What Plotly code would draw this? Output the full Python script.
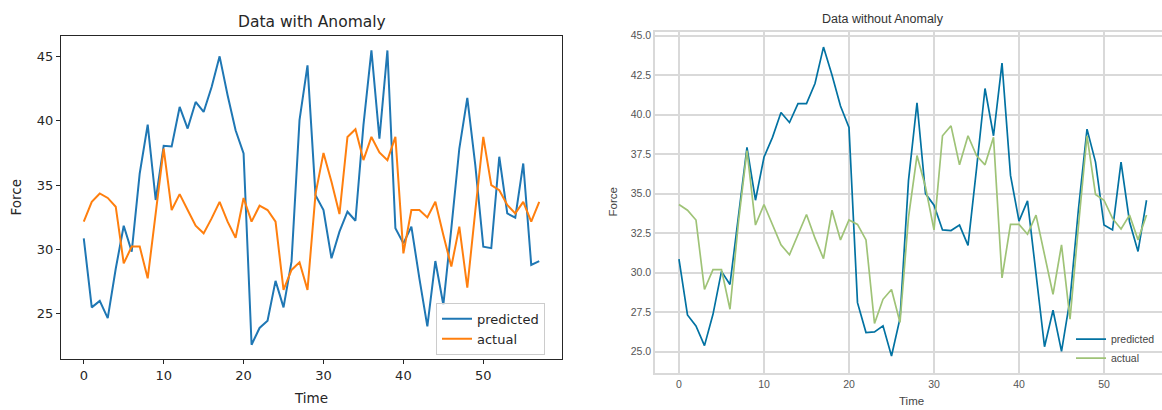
import plotly.graph_objects as go

# ---- Data: left panel ("Data with Anomaly") ----
time_left = list(range(58))
pred_left = [30.86, 25.5, 26.0, 24.66, 28.5, 31.84, 29.83, 35.9, 39.7, 33.84,
             38.05, 38.0, 41.07, 39.39, 41.46, 40.68, 42.62, 45.0, 41.98, 39.26,
             37.45, 22.6, 23.9, 24.46, 27.56, 25.5, 29.05, 40.04, 44.3, 34.22,
             33.06, 29.31, 31.38, 32.93, 32.23, 39.65, 45.46, 38.61, 45.46, 31.64,
             30.47, 31.77, 27.76, 24.02, 29.1, 25.7, 31.64, 37.84, 41.77, 36.55,
             30.22, 30.1, 37.2, 32.8, 32.47, 36.68, 28.8, 29.1]
act_left = [32.16, 33.7, 34.35, 34.0, 33.32, 28.92, 30.22, 30.22, 27.76, 32.8,
            37.84, 33.06, 34.3, 33.06, 31.84, 31.25, 32.41, 33.7, 32.16, 30.91,
            34.0, 32.16, 33.4, 33.06, 32.16, 26.86, 28.41, 29.0, 26.86, 34.3,
            37.5, 35.26, 32.75, 38.74, 39.34, 36.94, 38.74, 37.53, 36.94, 38.74,
            29.7, 33.06, 33.06, 32.49, 33.7, 31.12, 28.67, 31.77, 27.04, 33.0,
            38.74, 35.0, 34.6, 33.45, 32.8, 33.7, 32.16, 33.7]

# ---- Data: right panel ("Data without Anomaly") ----
time_right = list(range(56))
pred_right = [30.86, 27.32, 26.63, 25.38, 27.36, 30.08, 29.25, 33.43, 37.93, 34.58,
              37.3, 38.56, 40.13, 39.5, 40.69, 40.69, 41.97, 44.27, 42.5, 40.54,
              39.18, 28.1, 26.21, 26.25, 26.63, 24.72, 27.1, 35.84, 40.75, 35.0,
              34.27, 32.7, 32.66, 33.01, 31.72, 36.57, 41.65, 38.66, 43.26, 36.15,
              33.26, 34.54, 30.08, 25.31, 27.62, 25.02, 28.3, 34.06, 39.08, 36.99,
              33.01, 32.7, 36.99, 33.22, 31.34, 34.58]
act_right = [34.31, 33.95, 33.33, 28.93, 30.19, 30.19, 27.68, 33.22, 37.72, 33.01,
             34.31, 33.01, 31.76, 31.13, 32.38, 33.68, 32.18, 30.88, 33.95, 32.07,
             33.33, 33.05, 32.07, 26.78, 28.31, 28.93, 26.84, 33.5, 37.41, 35.42,
             32.7, 38.66, 39.29, 36.82, 38.66, 37.41, 36.82, 38.56, 29.67, 33.05,
             33.05, 32.43, 33.64, 31.03, 28.62, 31.76, 27.05, 33.0, 38.66, 34.94,
             34.58, 33.43, 32.76, 33.64, 32.07, 33.64]

left_yticks = [25, 30, 35, 40, 45]
left_xticks = [0, 10, 20, 30, 40, 50]
right_yticks = [25.0, 27.5, 30.0, 32.5, 35.0, 37.5, 40.0, 42.5, 45.0]
right_ytext = ["25.0", "27.5", "30.0", "32.5", "35.0", "37.5", "40.0", "42.5", "45.0"]
right_xticks = [0, 10, 20, 30, 40, 50]

W, H = 1162, 410
def px(x):
    return x / W
def py(y):
    return 1 - y / H

fig = go.Figure()

fig.add_trace(go.Scatter(x=time_left, y=pred_left, mode="lines", name="predicted",
                         line=dict(color="#1f77b4", width=2), xaxis="x", yaxis="y",
                         legend="legend"))
fig.add_trace(go.Scatter(x=time_left, y=act_left, mode="lines", name="actual",
                         line=dict(color="#ff7f0e", width=2), xaxis="x", yaxis="y",
                         legend="legend"))
fig.add_trace(go.Scatter(x=time_right, y=pred_right, mode="lines", name="predicted",
                         line=dict(color="#0272a2", width=1.7), xaxis="x2", yaxis="y2",
                         legend="legend2"))
fig.add_trace(go.Scatter(x=time_right, y=act_right, mode="lines", name="actual",
                         line=dict(color="#9fc377", width=1.7), xaxis="x2", yaxis="y2",
                         legend="legend2"))

left_font = dict(family="DejaVu Sans", size=13, color="#262626")
right_font = dict(family="Liberation Sans, Arial", size=10.5, color="#555555")

fig.update_layout(
    width=W, height=H,
    margin=dict(l=0, r=0, t=0, b=0),
    paper_bgcolor="white", plot_bgcolor="white",
    showlegend=True,
    xaxis=dict(domain=[px(61), px(562)], range=[-2.85, 59.85], anchor="y",
               tickvals=left_xticks, ticks="outside", ticklen=4, tickcolor="#262626",
               showline=True, linecolor="#262626", linewidth=1, mirror=True,
               showgrid=False, zeroline=False, tickfont=left_font),
    yaxis=dict(domain=[py(359), py(33)], range=[21.46, 46.6], anchor="x",
               tickvals=left_yticks, ticks="outside", ticklen=4, tickcolor="#262626",
               showline=True, linecolor="#262626", linewidth=1, mirror=True,
               showgrid=False, zeroline=False, tickfont=left_font),
    xaxis2=dict(domain=[px(655), 1.0], range=[-2.82, 56.82], anchor="y2",
                tickvals=right_xticks, ticks="", showline=True, linecolor="#d9d9d9",
                linewidth=1.5, mirror=True, showgrid=True, gridcolor="#d9d9d9",
                gridwidth=1.5, zeroline=False, tickfont=right_font),
    yaxis2=dict(domain=[py(373), py(29)], range=[23.63, 45.24], anchor="x2",
                tickvals=right_yticks, ticktext=right_ytext, ticks="",
                showline=True, linecolor="#d9d9d9", linewidth=1.5, mirror=False,
                showgrid=True, gridcolor="#d9d9d9", gridwidth=1.5, zeroline=False,
                tickfont=right_font),
    legend=dict(x=px(436), y=py(302), xanchor="left", yanchor="top",
                bgcolor="rgba(255,255,255,0.8)", bordercolor="#cccccc", borderwidth=1,
                font=dict(family="DejaVu Sans", size=13, color="#262626"),
                tracegroupgap=0),
    legend2=dict(x=px(1071), y=py(324), xanchor="left", yanchor="top",
                 bgcolor="rgba(0,0,0,0)", borderwidth=0,
                 font=dict(family="Liberation Sans, Arial", size=10.5, color="#444444"),
                 tracegroupgap=0),
)

ann = [
    dict(text="Data with Anomaly", x=px(312), y=py(19), font=dict(family="DejaVu Sans", size=15.5, color="#262626")),
    dict(text="Time", x=px(311), y=py(398), font=dict(family="DejaVu Sans", size=13.5, color="#262626")),
    dict(text="Force", x=px(16), y=py(196), textangle=-90, font=dict(family="DejaVu Sans", size=13.5, color="#262626")),
    dict(text="Data without Anomaly", x=px(883), y=py(16), font=dict(family="Liberation Sans, Arial", size=12.5, color="#333333")),
    dict(text="Time", x=px(911), y=py(401), font=dict(family="Liberation Sans, Arial", size=11.5, color="#444444")),
    dict(text="Force", x=px(613), y=py(201), textangle=-90, font=dict(family="Liberation Sans, Arial", size=11.5, color="#444444")),
]
for a in ann:
    fig.add_annotation(xref="paper", yref="paper", showarrow=False,
                       xanchor="center", yanchor="middle", **a)

fig.write_html("out.html", config={"displayModeBar": False},
               post_script="document.body.style.margin='0';document.body.style.padding='0';document.body.style.overflow='hidden';")
